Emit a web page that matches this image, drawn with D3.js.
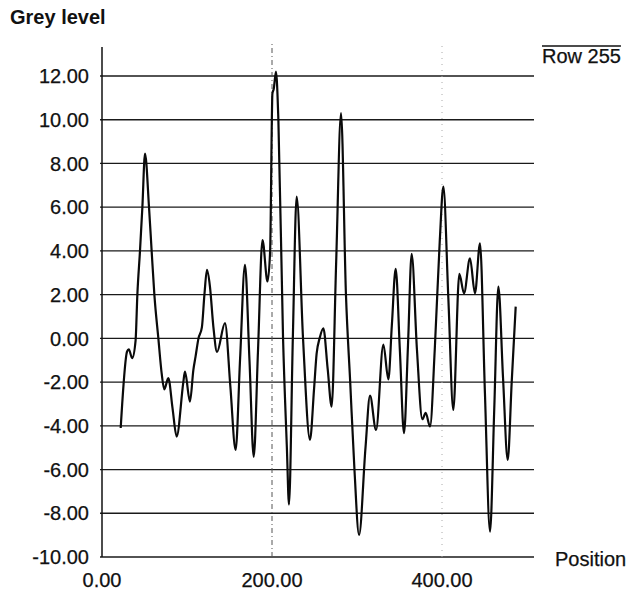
<!DOCTYPE html>
<html>
<head>
<meta charset="utf-8">
<script src="https://cdn.jsdelivr.net/npm/d3@7"></script>
<style>
  html, body { margin: 0; padding: 0; background: #fff; }
  svg { display: block; }
  text { font-family: "Liberation Sans", Arial, Helvetica, sans-serif; fill: #111; stroke: #111; stroke-width: 0.25px; }
</style>
</head>
<body>
<svg id="chart" width="632" height="590"></svg>
<script>
// Grey-level profile along row 255
const positions = [22, 29.5, 31.5, 35.5, 39.5, 41.6, 44.7, 47.5, 50.6, 55.3, 58.4, 61.6, 66.3, 70.2, 73.3, 78,
  83, 87.8, 95.7, 97.6, 103.5, 107.5, 110, 113.5, 117.5, 120.5, 123.5, 127, 131, 135.3,
  144.7, 151, 157.2, 162.5, 168.2, 173.5, 178.5, 183.5, 188.8, 194.7, 197.8, 200.5, 202, 204.7,
  207.5, 213, 217.5, 220, 224.5, 229, 236.5, 244.7, 249.5, 252.5, 256, 260.4, 265.5, 270.2,
  275.5, 281.2, 287, 292, 297, 302.4, 310, 315.3, 322.4, 331, 336.9, 341, 345.5, 350.5, 355.3,
  360, 364.3, 370.5, 376.9, 380.8, 385.9, 391.5, 397.3, 401.6, 407.5, 413.3, 420.4, 425.9,
  432.9, 438.8, 444.7, 450.5, 456.5, 461.5, 466.3, 471.8, 477.3, 482, 486.7];
const greyLevels = [-4.1, -0.6, -0.5, -0.9, -0.1, 2.0, 4.0, 6.0, 8.45, 6.0, 4.0, 2.0, 0.0, -1.6, -2.33, -1.82,
  -3.2, -4.49, -2.0, -1.52, -2.89, -1.44, -0.85, 0.0, 0.5, 2.0, 3.13, 2.37, 0.54, -0.62,
  0.7, -2.2, -5.1, -0.9, 3.36, -1.0, -5.42, -0.6, 4.5, 2.6, 4.0, 11.2, 11.4, 12.2,
  10.0, 0.0, -5.0, -7.6, 0.0, 6.48, 0.0, -4.64, -2.3, -0.7, 0.0, 0.46, -1.4, -3.12,
  3.5, 10.3, 2.0, -2.0, -6.0, -8.99, -5.0, -2.62, -4.19, -0.28, -1.88, 0.6, 3.18, -0.6, -4.34,
  -0.3, 3.86, -0.5, -3.7, -3.41, -4.03, -0.5, 4.4, 6.94, 1.8, -3.27, 2.95, 2.06,
  3.66, 2.06, 4.35, -2.5, -8.84, -3.2, 2.37, -1.8, -5.56, -2.0, 1.45];

const yTicks = [-10, -8, -6, -4, -2, 0, 2, 4, 6, 8, 10, 12];
const xTicks = [0, 200, 400];
const seriesName = "Row 255";
const yTitle = "Grey level";
const xTitle = "Position";

const svg = d3.select("#chart");

const x = d3.scaleLinear().domain([0, 200]).range([102, 272]);
const y = d3.scaleLinear().domain([-10, 12]).range([557, 76]);

const xEnd = 534;
const yTop = 47;
// two decimals, plain hyphen for negatives
const fmt = d3.formatLocale({ decimal: ".", thousands: ",", grouping: [3], currency: ["", ""], minus: "-" }).format(".2f");

// horizontal grid lines at each y tick
svg.append("g")
  .selectAll("line")
  .data(yTicks)
  .join("line")
  .attr("x1", x(0) - 2)
  .attr("x2", xEnd)
  .attr("y1", d => y(d))
  .attr("y2", d => y(d))
  .attr("stroke", "#1a1a1a")
  .attr("stroke-width", 1.3);

// dotted vertical guides at the x ticks
svg.append("g")
  .selectAll("line")
  .data(xTicks.filter(d => d > 0))
  .join("line")
  .attr("x1", d => x(d))
  .attr("x2", d => x(d))
  .attr("y1", y(-10))
  .attr("y2", yTop - 3)
  .attr("stroke", (d, i) => i === 0 ? "#555" : "#aaa")
  .attr("stroke-width", 1)
  .attr("stroke-dasharray", (d, i) => i === 0 ? "5,3,1,3" : "1,5");

// y axis line
svg.append("line")
  .attr("x1", x(0)).attr("x2", x(0))
  .attr("y1", yTop).attr("y2", y(-10))
  .attr("stroke", "#111").attr("stroke-width", 1.5);

// y tick labels
svg.append("g")
  .selectAll("text")
  .data(yTicks)
  .join("text")
  .attr("x", 89)
  .attr("y", d => y(d))
  .attr("dy", "0.36em")
  .attr("text-anchor", "end")
  .attr("font-size", 20)
  .text(d => fmt(d));

// x tick labels
svg.append("g")
  .selectAll("text")
  .data(xTicks)
  .join("text")
  .attr("x", d => x(d))
  .attr("y", 587)
  .attr("text-anchor", "middle")
  .attr("font-size", 20)
  .text(d => fmt(d));

// axis titles
svg.append("text")
  .attr("x", 10).attr("y", 24)
  .attr("font-size", 20)
  .attr("font-weight", "bold")
  .style("stroke-width", "0px")
  .text(yTitle);

svg.append("text")
  .attr("x", 555).attr("y", 566)
  .attr("font-size", 20)
  .text(xTitle);

// legend: series name with line sample above it
const legend = svg.append("g");
const legText = legend.append("text")
  .attr("x", 542).attr("y", 63)
  .attr("font-size", 20)
  .text(seriesName);
const lw = legText.node().getComputedTextLength();
legend.append("line")
  .attr("x1", 542).attr("x2", 542 + lw)
  .attr("y1", 46).attr("y2", 46)
  .attr("stroke", "#111").attr("stroke-width", 1.5);

// profile curve
const pts = positions.map((p, i) => [p, greyLevels[i]]);
const line = d3.line()
  .x(d => x(d[0]))
  .y(d => y(d[1]))
  .curve(d3.curveMonotoneX);

svg.append("path")
  .datum(pts)
  .attr("d", line)
  .attr("fill", "none")
  .attr("stroke", "#0a0a0a")
  .attr("stroke-width", 2.2)
  .attr("stroke-linejoin", "round");
</script>
</body>
</html>
